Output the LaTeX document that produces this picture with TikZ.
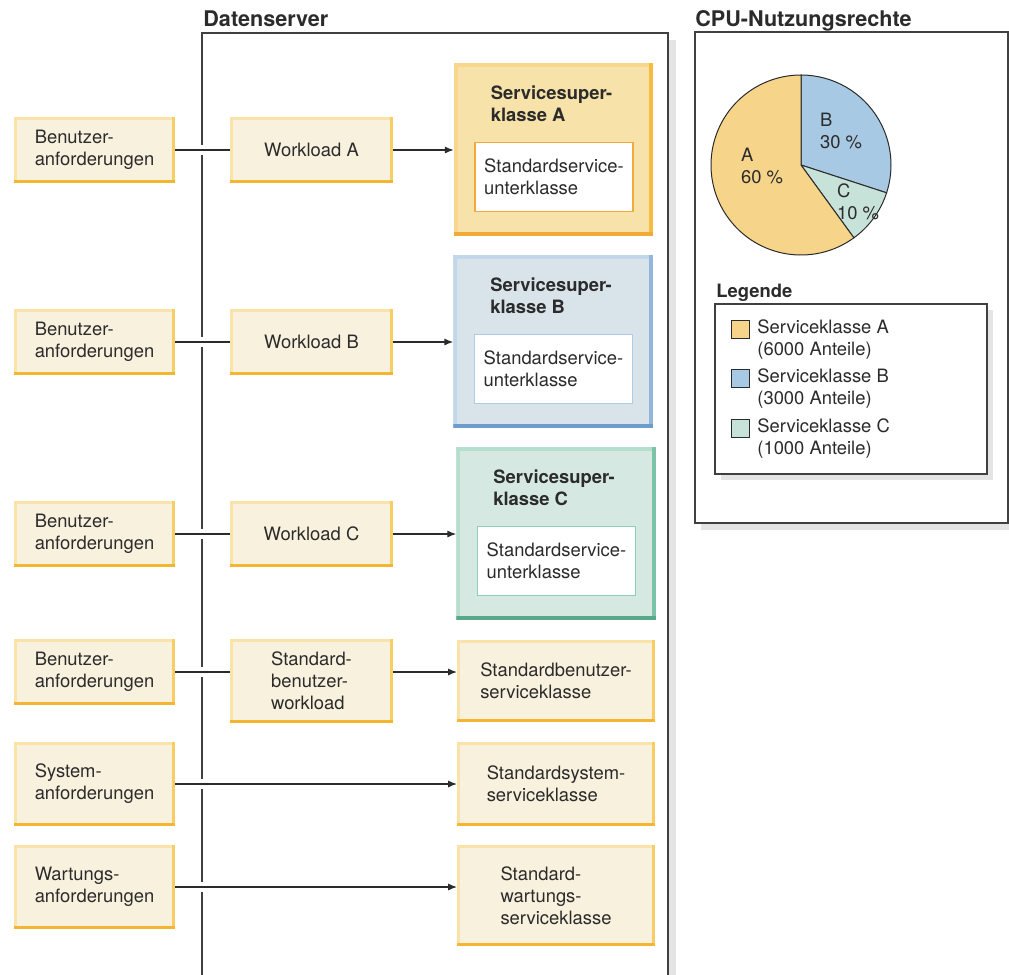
\documentclass[tikz,border=0pt]{standalone}
\usepackage{fontspec}
\setmainfont{TeX Gyre Heros}
\usetikzlibrary{arrows.meta}

\definecolor{cream}{HTML}{F8F1DD}
\definecolor{creamL}{HTML}{F9E3A9}
\definecolor{creamM}{HTML}{F7CE66}
\definecolor{creamD}{HTML}{F4B631}
\definecolor{fillA}{HTML}{F7E2A9}
\definecolor{lightA}{HTML}{F8D68C}
\definecolor{midA}{HTML}{F5BC40}
\definecolor{darkA}{HTML}{F0AA38}
\definecolor{lineA}{HTML}{F3AA3C}
\definecolor{fillB}{HTML}{D9E3EA}
\definecolor{lightB}{HTML}{C3D7EA}
\definecolor{midB}{HTML}{92B7DA}
\definecolor{darkB}{HTML}{6E9DCC}
\definecolor{lineB}{HTML}{AFCBE6}
\definecolor{fillC}{HTML}{D5E9E2}
\definecolor{lightC}{HTML}{B6DECF}
\definecolor{midC}{HTML}{7DC3A8}
\definecolor{darkC}{HTML}{57A98A}
\definecolor{lineC}{HTML}{8DD0B7}
\definecolor{pieA}{HTML}{F6D48A}
\definecolor{pieB}{HTML}{A7C9E3}
\definecolor{pieC}{HTML}{C7E3D9}
\definecolor{shadowgrey}{HTML}{E4E4E4}
\definecolor{ink}{HTML}{2B2B2B}

\newcommand\txtfont{\fontsize{9.2}{11}\selectfont}
\newcommand\headfont{\fontsize{10.8}{13}\selectfont\bfseries}

\tikzset{
  bevel/.style n args={5}{fill=#1, draw=none, outer sep=0pt,
    path picture={
      \fill[#2] (path picture bounding box.north west) rectangle
        ([yshift=-#5]path picture bounding box.north east);
      \fill[#2] (path picture bounding box.north west) rectangle
        ([xshift=#5]path picture bounding box.south west);
      \fill[#3] ([xshift=-#5]path picture bounding box.north east) rectangle
        (path picture bounding box.south east);
      \fill[#4] ([yshift=#5]path picture bounding box.south west) rectangle
        (path picture bounding box.south east);
    }},
}

\begin{document}
\begin{tikzpicture}[x=0.5pt, y=-0.5pt, font=\txtfont, text=ink,
  req/.style={bevel={cream}{creamL}{creamM}{creamD}{1.5pt},
    minimum width=80.5pt, minimum height=33pt, align=left, inner sep=0pt},
  super/.style={bevel={fill#1}{light#1}{mid#1}{dark#1}{2pt},
    minimum width=99.75pt, minimum height=86.5pt},
  sub/.style={fill=white, draw=line#1, line width=0.6pt,
    minimum width=79pt, minimum height=34.5pt, align=left},
  conn/.style={draw=ink, line width=0.65pt},
  hop/.style={preaction={draw=white, line width=5pt, -}},
  arr/.style={-{Latex[length=4.5pt,width=3.6pt]}},
  rim/.style={draw=ink!90, line width=0.6pt},
  swatch/.style={draw=ink, line width=0.5pt, minimum size=9pt, inner sep=0pt},
]
\useasboundingbox (0,0) rectangle (1009,975);

% Datenserver
\node[anchor=base west, font=\headfont, inner sep=0pt] (srvtitle) at (203,26) {Datenserver};
\fill[shadowgrey] (668,40) rectangle (676,975);
\draw[rim] (202,975) |- (668,33) -- (668,975);

\foreach \k/\y in {A/150, B/342, C/534} {
  \node[req] (req\k) at (94.5,\y) {Benutzer-\\anforderungen};
  \node[req, minimum width=81.5pt] (wl\k) at (311.5,\y) {Workload \k};
}
\node[super=A] (scA) at (553.5,149.5) {};
\node[super=B] (scB) at (553,341.5) {};
\node[super=C] (scC) at (556,533.5) {};
\foreach \k in {A,B,C} {
  \node[font=\txtfont\bfseries, align=left] (head\k) at ([xshift=-1pt,yshift=22.75pt]sc\k.center) {Servicesuper-\\klasse \k};
  \node[sub=\k] (sub\k) at ([xshift=0.25pt,yshift=-13.75pt]sc\k.center) {Standardservice-\\unterklasse};
  \draw[conn, arr] (wl\k) -- (wl\k -| sc\k.west);
  \draw[conn, hop] (req\k) -- (wl\k);
}

\node[req] (req4) at (94.5,672) {Benutzer-\\anforderungen};
\node[req, minimum width=81.5pt, minimum height=42pt] (wlstd) at (311.5,681) {Standard-\\benutzer-\\workload};
\node[req, minimum width=99pt, minimum height=41pt] (stdben) at (556,681) {Standardbenutzer-\\serviceklasse};
\node[req, minimum height=42pt] (sysreq) at (94.5,784) {System-\\anforderungen};
\node[req, minimum width=99pt, minimum height=42pt] (stdsys) at (556,784) {Standardsystem-\\serviceklasse};
\node[req, minimum height=42pt] (wartreq) at (94.5,887) {Wartungs-\\anforderungen};
\node[req, minimum width=99pt, minimum height=50.5pt] (stdwart) at (556,895.5) {Standard-\\wartungs-\\serviceklasse};
\draw[conn, hop] (req4) -- (req4 -| wlstd.west);
\draw[conn, arr] (wlstd.east |- req4) -- (req4 -| stdben.west);
\draw[conn, hop, arr] (sysreq) -- (sysreq -| stdsys.west);
\draw[conn, hop, arr] (wartreq) -- (wartreq -| stdwart.west);

% CPU-Nutzungsrechte
\node[anchor=base west, font=\headfont, inner sep=0pt] (cputitle) at (695,26) {CPU-Nutzungsrechte};
\fill[shadowgrey] (701,39) rectangle (1016,530);
\draw[rim, fill=white] (695,32) rectangle (1008,523);
\coordinate (pie) at (801,165);
\filldraw[fill=pieB, draw=ink, line width=0.5pt] (pie) -- ++(90:45pt) arc[start angle=90, end angle=-18, radius=45pt] -- cycle;
\filldraw[fill=pieC, draw=ink, line width=0.5pt] (pie) -- ++(-18:45pt) arc[start angle=-18, end angle=-54, radius=45pt] -- cycle;
\filldraw[fill=pieA, draw=ink, line width=0.5pt] (pie) -- ++(-54:45pt) arc[start angle=-54, end angle=-270, radius=45pt] -- cycle;
\node[align=left, inner sep=0pt] (labA) at (762,166) {A\\60 \%};
\node[align=left, inner sep=0pt] (labB) at (841,131) {B\\30 \%};
\node[align=left, inner sep=0pt] (labC) at (858,202) {C\\10 \%};

% Legende
\node[anchor=base west, font=\txtfont\bfseries, inner sep=0pt] (legtitle) at (716,297) {Legende};
\fill[shadowgrey] (721,310) rectangle (993,480);
\draw[rim, fill=white] (715,304) rectangle (987,474);
\foreach \k/\y/\n in {A/329/6000, B/378/3000, C/428/1000} {
  \node[swatch, fill=pie\k] (sw\k) at (740,\y) {};
  \node[anchor=west, align=left, inner sep=0pt] (leg\k) at (757,\y+11) {Serviceklasse \k\\(\n{} Anteile)};
}
\end{tikzpicture}
\end{document}
